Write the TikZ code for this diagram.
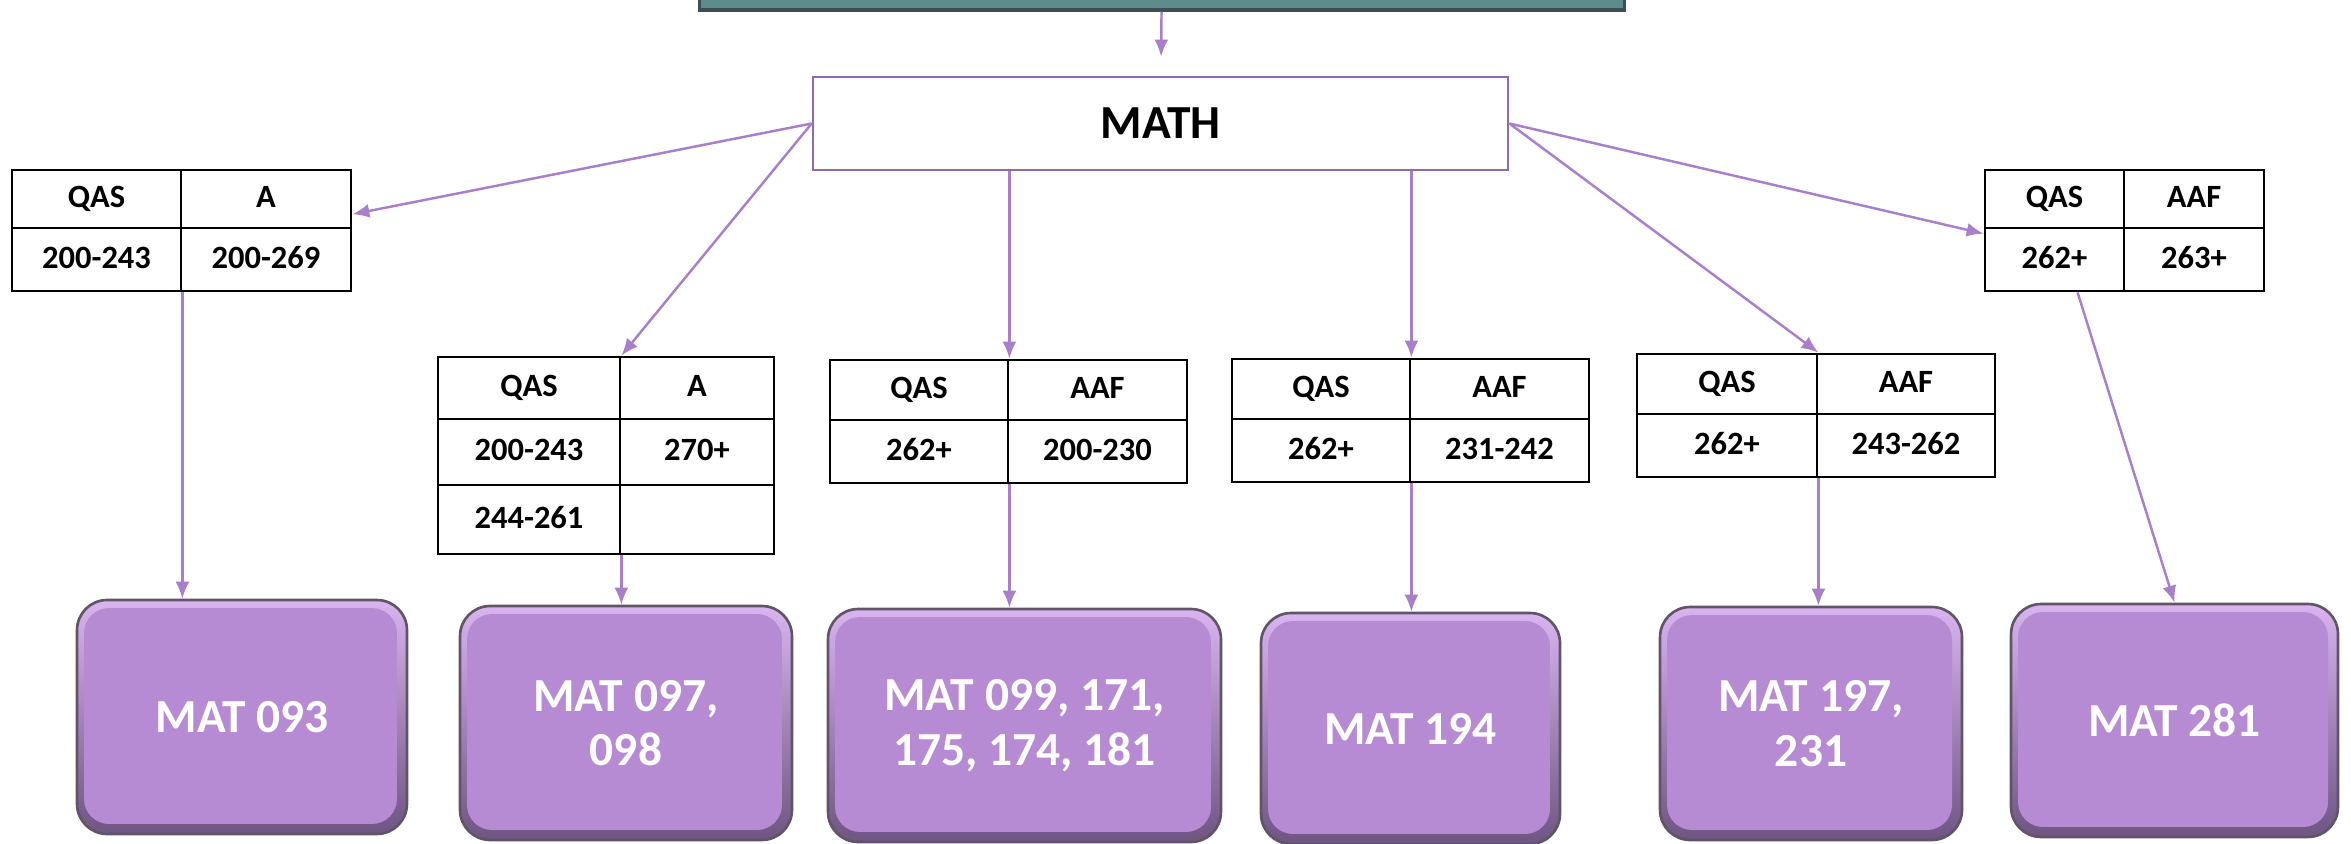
\documentclass[tikz,border=0pt]{standalone}
\usepackage{fontspec}
\setmainfont{Carlito}
\usetikzlibrary{arrows.meta,matrix}
\definecolor{linkpurple}{HTML}{A77FCB}
\definecolor{mathedge}{HTML}{8E6CAA}
\definecolor{coursefill}{HTML}{B78BD3}
\definecolor{courselight}{HTML}{D9B4F0}
\definecolor{coursedark}{HTML}{6E5582}
\definecolor{courserim}{HTML}{5F5566}
\definecolor{barteal}{HTML}{5E8B8B}
\definecolor{baredge}{HTML}{3E4D51}
\tikzset{
  link/.style={draw=linkpurple, line width=1.4pt, -{Latex[length=0.34cm,width=0.28cm]}},
  cell/.style={draw=black, line width=1.6pt, inner sep=0pt, anchor=center, text height=12pt, text depth=2pt, font=\fontsize{18.5}{22}\selectfont\bfseries},
  score/.style={matrix of nodes, nodes in empty cells, nodes={cell}, column sep=-1.6pt, row sep=-1.6pt},
  widths/.style 2 args={column 1/.style={nodes={minimum width=#1}}, column 2/.style={nodes={minimum width=#2}}},
  course/.style={draw=courserim, line width=1.5pt, rounded corners=0.6cm, top color=courselight, bottom color=coursedark,
    path picture={\fill[coursefill, rounded corners=0.5cm] ([shift={(0.14cm,-0.16cm)}]path picture bounding box.north west) rectangle ([shift={(-0.2cm,0.2cm)}]path picture bounding box.south east);},
    text=white, align=center, font=\fontsize{27}{31}\selectfont\bfseries},
}

\begin{document}
\begin{tikzpicture}[x=0.02cm,y=-0.02cm]
  \useasboundingbox (0,0) rectangle (2351,844);
  \clip (0,0) rectangle (2351,844);

  % top box and the MATH node
  \node[draw=baredge, fill=barteal, line width=2pt, minimum width=18.5cm, minimum height=2cm] (intake) at (1162,-40) {};
  \node[draw=mathedge, line width=1.6pt, fill=white, minimum width=13.9cm, minimum height=1.86cm, font=\fontsize{27}{32}\selectfont\bfseries] (math) at (1160.5,123.5) {MATH};

  % score tables
  \matrix (t1) [score, widths={3.38cm}{3.4cm}, row 1/.style={nodes={minimum height=1.16cm}}, row 2/.style={nodes={minimum height=1.26cm}}] at (181.5,230.5) {
    QAS & A \\ 200-243 & 200-269 \\
  };
  \matrix (t2) [score, widths={3.64cm}{3.08cm}, row 1/.style={nodes={minimum height=1.24cm}}, row 2/.style={nodes={minimum height=1.32cm}}, row 3/.style={nodes={minimum height=1.38cm}}] at (606,455.5) {
    QAS & A \\ 200-243 & 270+ \\ 244-261 & \\
  };
  \matrix (t3) [score, widths={3.56cm}{3.58cm}, row 1/.style={nodes={minimum height=1.2cm}}, row 2/.style={nodes={minimum height=1.26cm}}] at (1008.5,421.5) {
    QAS & AAF \\ 262+ & 200-230 \\
  };
  \matrix (t4) [score, widths={3.56cm}{3.58cm}, row 1/.style={nodes={minimum height=1.2cm}}, row 2/.style={nodes={minimum height=1.26cm}}] at (1410.5,420.5) {
    QAS & AAF \\ 262+ & 231-242 \\
  };
  \matrix (t5) [score, widths={3.6cm}{3.56cm}, row 1/.style={nodes={minimum height=1.2cm}}, row 2/.style={nodes={minimum height=1.26cm}}] at (1816,415.5) {
    QAS & AAF \\ 262+ & 243-262 \\
  };
  \matrix (t6) [score, widths={2.78cm}{2.8cm}, row 1/.style={nodes={minimum height=1.16cm}}, row 2/.style={nodes={minimum height=1.26cm}}] at (2124.5,230.5) {
    QAS & AAF \\ 262+ & 263+ \\
  };

  % courses
  \node[course, minimum width=6.6cm, minimum height=4.68cm] (b1) at (242,717) {MAT 093};
  \node[course, minimum width=6.64cm, minimum height=4.68cm] (b2) at (626,723) {MAT 097,\\098};
  \node[course, minimum width=7.86cm, minimum height=4.66cm] (b3) at (1024.5,725.5) {MAT 099, 171,\\175, 174, 181};
  \node[course, minimum width=5.98cm, minimum height=4.62cm] (b4) at (1410.5,728.5) {MAT 194};
  \node[course, minimum width=6.04cm, minimum height=4.66cm] (b5) at (1811,723.5) {MAT 197,\\231};
  \node[course, minimum width=6.54cm, minimum height=4.66cm] (b6) at (2174.5,720.5) {MAT 281};

  % arrows
  \draw[link, shorten >=0.38cm] (intake) -- (math);
  \draw[link] (math.west) -- (t1-1-2.-10);
  \draw[link] (math.west) -- (t2-1-1.north east);
  \draw[link] (t3-1-1.north east |- math.south) -- (t3-1-1.north east);
  \draw[link] (t4-1-1.north east |- math.south) -- (t4-1-1.north east);
  \draw[link] (math.east) -- (t5-1-1.north east);
  \draw[link] (math.east) -- (t6-2-1.160);
  \draw[link] (t1-2-1.south east) -- (t1-2-1.south east |- b1.north);
  \draw[link] (t2-3-1.south east) -- (t2-3-1.south east |- b2.north);
  \draw[link] (t3-2-1.south east) -- (t3-2-1.south east |- b3.north);
  \draw[link] (t4-2-1.south east) -- (t4-2-1.south east |- b4.north);
  \draw[link] (t5-2-1.south east) -- (t5-2-1.south east |- b5.north);
  \draw[link] (t6-2-1.-55) -- (b6.north);
\end{tikzpicture}
\end{document}
